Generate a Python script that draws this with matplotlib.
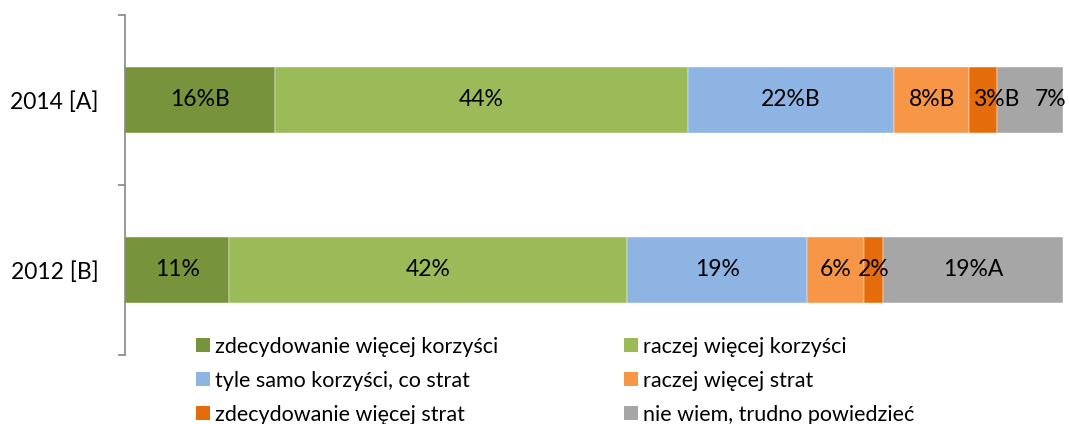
import matplotlib
matplotlib.use("Agg")
import matplotlib.pyplot as plt
from matplotlib.patches import Patch
import numpy as np

plt.rcParams['font.family'] = ['Lato', 'DejaVu Sans']

years = ["2012 [B]", "2014 [A]"]
series = ["zdecydowanie więcej korzyści", "raczej więcej korzyści",
          "tyle samo korzyści, co strat", "raczej więcej strat",
          "zdecydowanie więcej strat", "nie wiem, trudno powiedzieć"]
values_2012 = [11, 42, 19, 6, 2, 19]
values_2014 = [16, 44, 22, 8, 3, 7]
labels_2012 = ["11%", "42%", "19%", "6%", "2%", "19%A"]
labels_2014 = ["16%B", "44%", "22%B", "8%B", "3%B", "7%"]

colors = ["#77933C", "#9BBB59", "#8EB4E3", "#F79646", "#E46C0A", "#A6A6A6"]
# label x offsets in points (to mimic the source layout)
offsets_2014 = [0, 0, 0, 0, 9, 15]
offsets_2012 = [0, 0, 0, 0, 0, 0]

W, H = 1069, 424
fig = plt.figure(figsize=(W / 100, H / 100), dpi=100)
ax = fig.add_axes([125 / W, 1 - 355 / H, (1063 - 125) / W, (355 - 15) / H])

data = np.array([values_2012, values_2014], dtype=float)
data = data / data.sum(axis=1, keepdims=True) * 100
all_labels = [labels_2012, labels_2014]
all_offsets = [offsets_2012, offsets_2014]
ypos = np.arange(len(years))

left = np.zeros(len(years))
for j, name in enumerate(series):
    ax.barh(ypos, data[:, j], left=left, height=0.39, color=colors[j],
            edgecolor='white', linewidth=0.3, label=name)
    for i in range(len(years)):
        cx = left[i] + data[i, j] / 2
        ax.annotate(all_labels[i][j], (cx, ypos[i]), xytext=(all_offsets[i][j], 0),
                    textcoords='offset points', ha='center', va='center',
                    fontsize=16.5, color='black')
    left += data[:, j]

ax.set_xlim(0, 100)
ax.set_ylim(-0.5, 1.5)
ax.set_yticks(ypos)
ax.set_yticklabels(years, fontsize=16.5)
ax.tick_params(axis='y', which='major', length=0, pad=19)
ax.set_yticks([-0.5, 0.5, 1.5], minor=True)
ax.tick_params(axis='y', which='minor', length=5, width=1.2, color='#868686', direction='out')
ax.set_xticks([])
for s in ['top', 'right', 'bottom']:
    ax.spines[s].set_visible(False)
ax.spines['left'].set_color('#868686')
ax.spines['left'].set_linewidth(1.2)

order = [0, 2, 4, 1, 3, 5]
proxy = [Patch(facecolor=colors[k], edgecolor='none') for k in range(len(series))]
leg = fig.legend([proxy[k] for k in order], [series[k] for k in order],
                 ncol=2, loc='upper left', bbox_to_anchor=(196 / W, 1 - 337 / H),
                 frameon=False, fontsize=15.5, handlelength=0.65, handleheight=0.62,
                 handletextpad=0.23, columnspacing=5.85, labelspacing=0.64,
                 borderpad=0, borderaxespad=0)

fig.savefig("out.png", dpi=100)
